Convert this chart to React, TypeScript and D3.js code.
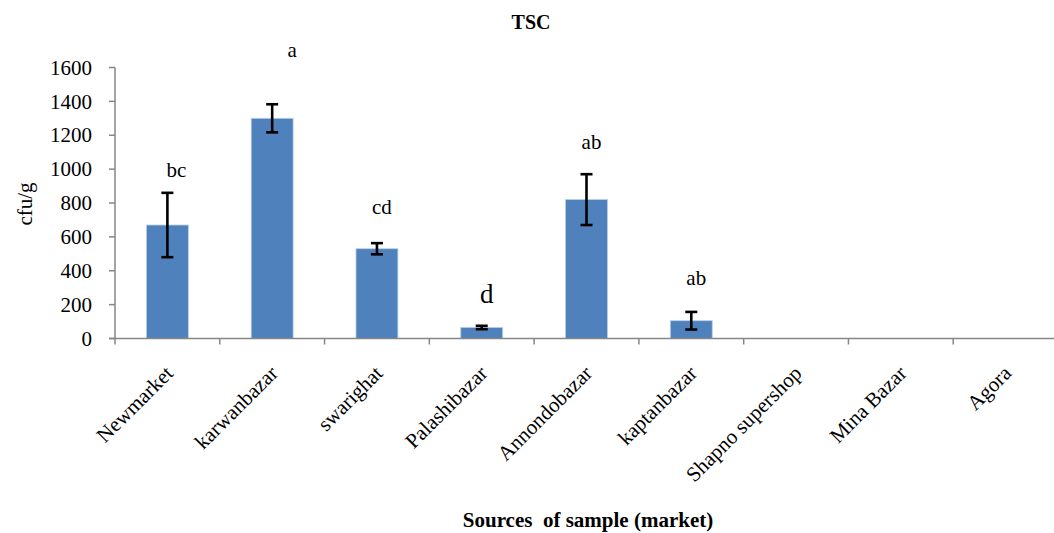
import React from "react";
import * as d3 from "d3";

// market names on the x axis
const markets = [
  "Newmarket",
  "karwanbazar",
  "swarighat",
  "Palashibazar",
  "Annondobazar",
  "kaptanbazar",
  "Shapno supershop",
  "Mina Bazar",
  "Agora",
];
// mean count (cfu/g), null = no bar
const means = [670, 1300, 530, 65, 820, 105, null, null, null];
// error (+/-)
const errors = [190, 83, 33, 10, 150, 52, null, null, null];
// significance letters and the value height they sit at
const letters = ["bc", "a", "cd", "d", "ab", "ab", "", "", ""];
const letterAt = [955, 1665, 735, 210, 1120, 315, 0, 0, 0];
const yTicks = [0, 200, 400, 600, 800, 1000, 1200, 1400, 1600];

const W = 1054;
const H = 533;
const margin = { top: 67.5, right: -4, bottom: 194.5, left: 115 };

const App = () => {
  const innerW = W - margin.left - margin.right;
  const innerH = H - margin.top - margin.bottom;

  const x = d3.scaleBand().domain(markets).range([0, innerW]).paddingInner(0.6).paddingOuter(0.3);
  const y = d3.scaleLinear().domain([0, 1600]).range([innerH, 0]);
  const step = x.step();
  const font = "'Liberation Serif', 'Times New Roman', serif";
  const axisColor = "#868686";

  return (
    <svg width={W} height={H} style={{ position: "absolute", left: 0, top: 0, background: "#fff" }} fontFamily={font}>
      <text x={531} y={29} textAnchor="middle" fontSize={20} fontWeight="bold">TSC</text>
      <text transform={`translate(32,204) rotate(-90)`} textAnchor="middle" fontSize={21}>cfu/g</text>
      <text x={588} y={527} textAnchor="middle" fontSize={21} fontWeight="bold" style={{ whiteSpace: "pre" }}>
        Sources  of sample (market)
      </text>
      <g transform={`translate(${margin.left},${margin.top})`}>
        {/* bars */}
        {markets.map((m, i) =>
          means[i] == null ? null : (
            <rect key={m} x={x(m)} y={y(means[i] as number)} width={x.bandwidth()}
              height={innerH - y(means[i] as number)} fill="#4f81bd" stroke="#b9cde5" strokeWidth={0.8} />
          )
        )}
        {/* error bars */}
        {markets.map((m, i) => {
          if (means[i] == null) return null;
          const cx = (x(m) as number) + x.bandwidth() / 2;
          const hi = y((means[i] as number) + (errors[i] as number));
          const lo = y((means[i] as number) - (errors[i] as number));
          return (
            <g key={m} stroke="#000" strokeWidth={2.6}>
              <line x1={cx} x2={cx} y1={hi} y2={lo} />
              <line x1={cx - 6} x2={cx + 6} y1={hi} y2={hi} />
              <line x1={cx - 6} x2={cx + 6} y1={lo} y2={lo} />
            </g>
          );
        })}
        {/* letters */}
        {markets.map((m, i) =>
          letters[i] ? (
            <text key={m} x={(x(m) as number) + x.bandwidth() / 2 + (i === 1 ? 20 : i === 0 ? 9 : 5)}
              y={y(letterAt[i])} textAnchor="middle" fontSize={i === 3 ? 27 : 21}>
              {letters[i]}
            </text>
          ) : null
        )}
        {/* y axis */}
        <line x1={0} x2={0} y1={0} y2={innerH} stroke={axisColor} strokeWidth={1.5} />
        {yTicks.map((t) => (
          <g key={t} transform={`translate(0,${y(t)})`}>
            <line x1={-6} x2={0} stroke={axisColor} strokeWidth={1.5} />
            <text x={-23} dy="0.34em" textAnchor="end" fontSize={21}>{t}</text>
          </g>
        ))}
        {/* x axis */}
        <line x1={-6} x2={innerW} y1={innerH} y2={innerH} stroke={axisColor} strokeWidth={1.5} />
        {d3.range(markets.length).map((i) => (
          <line key={i} x1={i * step} x2={i * step} y1={innerH} y2={innerH + 6} stroke={axisColor} strokeWidth={1.5} />
        ))}
        {markets.map((m) => {
          const cx = (x(m) as number) + x.bandwidth() / 2;
          return (
            <text key={m} transform={`translate(${cx + 7},${innerH + 36}) rotate(-45)`} textAnchor="end" fontSize={21}>
              {m}
            </text>
          );
        })}
      </g>
    </svg>
  );
};

export default App;
